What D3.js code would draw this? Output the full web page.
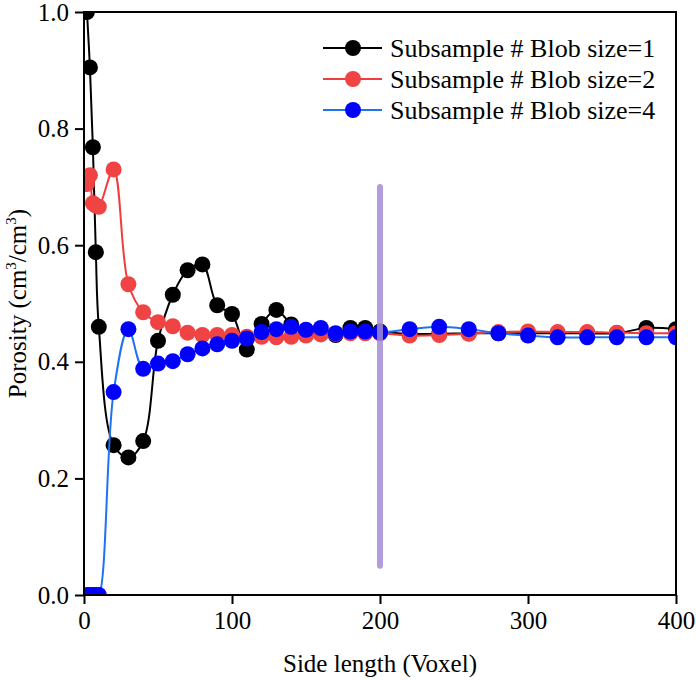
<!DOCTYPE html>
<html>
<head>
<meta charset="utf-8">
<script src="https://cdn.jsdelivr.net/npm/d3@7"></script>
<style>
  body { margin: 0; background: #fff; }
</style>
</head>
<body>
<svg width="696" height="680"></svg>
<script>
// side length (voxel) of each subsample
var xBlob1 = [2, 4, 6, 8, 10, 20, 30, 40, 50, 60, 70, 80, 90, 100, 110, 120, 130, 140, 150, 160, 170, 180, 190, 200, 220, 240, 260, 280, 300, 320, 340, 360, 380, 400];
var yBlob1 = [1.0, 0.905, 0.768, 0.588, 0.46, 0.257, 0.236, 0.264, 0.436, 0.515, 0.557, 0.567, 0.497, 0.482, 0.421, 0.465, 0.489, 0.464, 0.452, 0.45, 0.446, 0.458, 0.458, 0.452, 0.448, 0.448, 0.449, 0.449, 0.449, 0.449, 0.449, 0.449, 0.458, 0.456];

var xBlob2 = [2, 4, 6, 8, 10, 20, 30, 40, 50, 60, 70, 80, 90, 100, 110, 120, 130, 140, 150, 160, 170, 180, 190, 200, 220, 240, 260, 280, 300, 320, 340, 360, 380, 400];
var yBlob2 = [0.705, 0.72, 0.672, 0.668, 0.666, 0.73, 0.533, 0.485, 0.468, 0.461, 0.45, 0.446, 0.446, 0.446, 0.443, 0.443, 0.442, 0.443, 0.445, 0.447, 0.448, 0.449, 0.449, 0.449, 0.445, 0.446, 0.448, 0.451, 0.452, 0.451, 0.451, 0.45, 0.449, 0.449];

var xBlob4 = [2, 4, 6, 8, 10, 20, 30, 40, 50, 60, 70, 80, 90, 100, 110, 120, 130, 140, 150, 160, 170, 180, 190, 200, 220, 240, 260, 280, 300, 320, 340, 360, 380, 400];
var yBlob4 = [0, 0, 0, 0, 0, 0.348, 0.456, 0.388, 0.397, 0.401, 0.413, 0.423, 0.43, 0.436, 0.44, 0.451, 0.456, 0.46, 0.455, 0.458, 0.449, 0.452, 0.452, 0.45, 0.456, 0.46, 0.456, 0.449, 0.445, 0.442, 0.442, 0.442, 0.442, 0.442];

var seriesNames = ["Subsample # Blob size=1", "Subsample # Blob size=2", "Subsample # Blob size=4"];
var xTicks = [0, 100, 200, 300, 400];
var yTicks = [0.0, 0.2, 0.4, 0.6, 0.8, 1.0];
var markerX = 200;          // vertical marker position
var markerRange = [0.05, 0.70];

(function () {
  'use strict';

  var FONT = "Liberation Serif";
  var svg = d3.select("svg");
  var left = 84, right = 676, top = 12, bottom = 595;

  var x = d3.scaleLinear().domain([0, 400]).range([left, right]);
  var y = d3.scaleLinear().domain([0, 1]).range([bottom, top]);

  var series = [
    { name: seriesNames[0], xs: xBlob1, ys: yBlob1, line: "#000000", fill: "#000000" },
    { name: seriesNames[1], xs: xBlob2, ys: yBlob2, line: "#f03c3c", fill: "#f04343" },
    { name: seriesNames[2], xs: xBlob4, ys: yBlob4, line: "#1f72f2", fill: "#0000ff" }
  ];

  svg.append("clipPath").attr("id", "plot-clip")
    .append("rect")
      .attr("x", left).attr("y", top)
      .attr("width", right - left).attr("height", bottom - top);

  var plot = svg.append("g").attr("clip-path", "url(#plot-clip)");

  var line = d3.line()
      .curve(d3.curveCatmullRom.alpha(0.5))
      .x(function(d) { return x(d[0]); })
      .y(function(d) { return y(d[1]); });

  series.forEach(function(s) {
    var pts = s.xs.map(function(v, i) { return [v, s.ys[i]]; });
    var g = plot.append("g");
    g.append("path")
        .datum(pts)
        .attr("fill", "none")
        .attr("stroke", s.line)
        .attr("stroke-width", 2)
        .attr("d", line);
    g.selectAll("circle")
      .data(pts)
      .enter().append("circle")
        .attr("cx", function(d) { return x(d[0]); })
        .attr("cy", function(d) { return y(d[1]); })
        .attr("r", 8)
        .attr("fill", s.fill);
  });

  // lavender marker at side length 200
  svg.append("line")
      .attr("x1", x(markerX)).attr("x2", x(markerX))
      .attr("y1", y(markerRange[0])).attr("y2", y(markerRange[1]))
      .attr("stroke", "#a58bd6")
      .attr("stroke-opacity", 0.85)
      .attr("stroke-width", 6)
      .attr("stroke-linecap", "round");

  // frame
  svg.append("rect")
      .attr("x", left).attr("y", top)
      .attr("width", right - left).attr("height", bottom - top)
      .attr("fill", "none")
      .attr("stroke", "#000")
      .attr("stroke-width", 2);

  // bottom axis
  var xAxis = svg.append("g").attr("transform", "translate(0," + bottom + ")");
  xAxis.call(d3.axisBottom(x).tickValues(d3.range(50, 400, 100)).tickSize(5).tickFormat(""));
  xAxis.call(d3.axisBottom(x).tickValues(xTicks).tickSize(9).tickPadding(7).tickFormat(d3.format("d")));
  xAxis.selectAll(".domain").remove();
  xAxis.selectAll("line").attr("stroke", "#000").attr("stroke-width", 2);
  xAxis.selectAll("text").attr("fill", "#000")
      .style("font-family", FONT).style("font-size", "25px");

  // left axis
  var yAxis = svg.append("g").attr("transform", "translate(" + left + ",0)");
  yAxis.call(d3.axisLeft(y).tickValues(d3.range(0.1, 1, 0.2)).tickSize(5).tickFormat(""));
  yAxis.call(d3.axisLeft(y).tickValues(yTicks).tickSize(9).tickPadding(6).tickFormat(d3.format(".1f")));
  yAxis.selectAll(".domain").remove();
  yAxis.selectAll("line").attr("stroke", "#000").attr("stroke-width", 2);
  yAxis.selectAll("text").attr("fill", "#000")
      .style("font-family", FONT).style("font-size", "25px");

  // axis titles
  svg.append("text")
      .attr("x", (left + right) / 2).attr("y", 672)
      .attr("text-anchor", "middle")
      .style("font-family", FONT)
      .style("font-size", "25px")
      .text("Side length (Voxel)");

  var yt = svg.append("text")
      .attr("transform", "translate(26," + ((top + bottom) / 2) + ") rotate(-90)")
      .attr("text-anchor", "middle")
      .style("font-family", FONT)
      .style("font-size", "25px");
  yt.append("tspan").text("Porosity (cm");
  yt.append("tspan").style("font-size", "15px").attr("dy", -10).text("3");
  yt.append("tspan").attr("dy", 10).text("/cm");
  yt.append("tspan").style("font-size", "15px").attr("dy", -10).text("3");
  yt.append("tspan").attr("dy", 10).text(")");

  // legend
  var legend = svg.append("g").selectAll("g")
    .data(series)
    .enter().append("g")
      .attr("transform", function(d, i) { return "translate(323," + (48 + i * 31) + ")"; });
  legend.append("line")
      .attr("x1", 0).attr("x2", 59)
      .attr("stroke", function(d) { return d.line; })
      .attr("stroke-width", 2);
  legend.append("circle")
      .attr("cx", 30).attr("r", 8)
      .attr("fill", function(d) { return d.fill; });
  legend.append("text")
      .attr("x", 67).attr("dy", "0.35em")
      .style("font-family", FONT)
      .style("font-size", "26px")
      .text(function(d) { return d.name; });
}());
</script>
</body>
</html>
